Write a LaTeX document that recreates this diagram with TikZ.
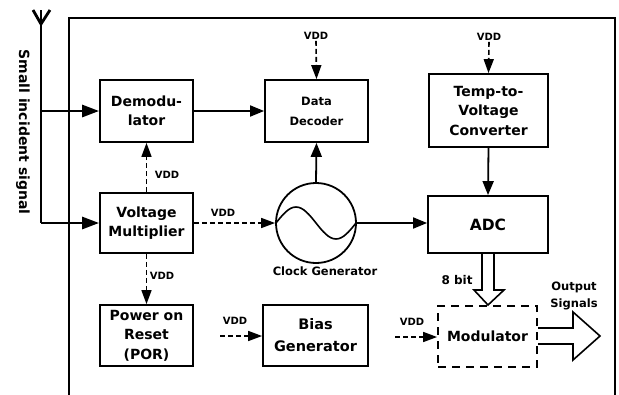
\documentclass[tikz,border=0pt]{standalone}
\usepackage{fontspec}
\setmainfont{DejaVu Sans}
\usetikzlibrary{arrows.meta}
\tikzset{
  blk/.style={draw, line width=1.8pt, align=center, inner sep=1pt, font=\bfseries\fontsize{14}{19.5}\selectfont},
  conn/.style={line width=1.8pt, -{Triangle[length=14pt,width=11pt]}},
  vddconn/.style={line width=1.6pt, dash pattern=on 5pt off 3pt, -{Triangle[length=14pt,width=10pt]}},
  vddlbl/.style={font=\bfseries\fontsize{10}{11}\selectfont, inner sep=1pt},
  thick2/.style={line width=2.8pt},
  lbl/.style={font=\bfseries\fontsize{11.5}{17.5}\selectfont, align=center, inner sep=0pt},
  hollow/.style={line width=1.6pt, line join=miter, fill=white}
}
\begin{document}
\begin{tikzpicture}[x=1pt,y=-1pt]
\useasboundingbox (0,0) rectangle (619,394);
% main frame
\draw[thick2] (69,396) -- (69,18) -- (615,18) -- (615,396);
% blocks
\node[blk, minimum width=93pt, minimum height=62pt] (demod) at (146.5,111) {Demodu-\\lator};
\node[blk, minimum width=103pt, minimum height=62pt, font=\bfseries\fontsize{11.5}{20}\selectfont] (dd) at (316.5,111) {Data\\Decoder};
\node[blk, minimum width=119pt, minimum height=73pt] (tvc) at (488.5,110.5) {Temp-to-\\Voltage\\Converter};
\node[blk, minimum width=120pt, minimum height=57pt, font=\bfseries\fontsize{15.5}{19}\selectfont] (adc) at (488,224.5) {ADC};
\node[blk, minimum width=93pt, minimum height=60pt] (vm) at (146.5,223) {Voltage\\Multiplier};
\node[blk, minimum width=93pt, minimum height=61pt] (por) at (146.5,335.5) {Power on\\Reset\\(POR)};
\node[blk, minimum width=105pt, minimum height=61pt, font=\bfseries\fontsize{14.5}{22}\selectfont] (bias) at (315.5,335.5) {Bias\\Generator};
\node[blk, dash pattern=on 8pt off 6pt, minimum width=99pt, minimum height=61pt] (mod) at (487.5,336.5) {Modulator};
\node[draw, circle, line width=1.8pt, minimum size=80pt, inner sep=0pt] (clk) at (316,223) {};
\draw[line width=1.6pt, shift={(clk.center)}] (-40,0) sin (-20,-16) cos (0,0) sin (20,16) cos (40,0);
\node[lbl] (clklbl) at (325,271) {Clock Generator};
% antenna
\coordinate (ant) at (41,10);
\coordinate (antc) at (41,24);
\coordinate (antb) at (41,223);
\coordinate (antm) at (41,111);
\draw[thick2] (ant) -- (antb);
\draw[thick2] (33,10) -- (antc) -- (50,10);
\draw[thick2, -{Triangle[length=17pt,width=12pt]}] (antb) -- (antb -| vm.west);
\draw[thick2, -{Triangle[length=17pt,width=12pt]}] (antm) -- (antm -| demod.west);
\node[font=\bfseries\fontsize{14}{16}\selectfont, rotate=-90, inner sep=0pt] (sis) at (23,132) {Small incident signal};
% solid connectors
\draw[conn] (demod.east) -- (dd.west);
\draw[conn] (clk.north) -- (dd.south);
\draw[conn] (tvc.south) -- (adc.north);
\draw[conn] (clk.east) -- (clk.east -| adc.west);
% VDD connectors
\node[vddlbl] (v1) at (316,36) {VDD};
\draw[vddconn] (v1.south) -- (dd.north);
\node[vddlbl] (v2) at (489,37) {VDD};
\draw[vddconn] (v2.south) -- (tvc.north);
\draw[vddconn] (vm.north) -- (demod.south);
\node[vddlbl] (v3) at (167,175) {VDD};
\draw[vddconn] (vm.south) -- (por.north);
\node[vddlbl] (v4) at (162,276) {VDD};
\draw[vddconn] (vm.east) -- (clk.west);
\node[vddlbl] (v5) at (223,213) {VDD};
\coordinate (bs) at (220,336);
\draw[vddconn] (bs) -- (bs -| bias.west);
\node[vddlbl] (v6) at (235,321) {VDD};
\coordinate (ms) at (395,337);
\draw[vddconn] (ms) -- (ms -| mod.west);
\node[vddlbl] (v7) at (412,322) {VDD};
% 8 bit hollow arrow
\draw[hollow] (482,254) -- (482,290) -- (474,290) -- (488,305) -- (504,290) -- (494,290) -- (494,254);
\node[font=\bfseries\fontsize{12}{14}\selectfont, inner sep=0pt] (eb) at (457,280) {8 bit};
% output hollow arrow
\draw[hollow] (538,328) -- (573,328) -- (573,312) -- (600,336) -- (573,360) -- (573,344) -- (538,344);
\node[lbl] (outl) at (574,296) {Output\\Signals};
\end{tikzpicture}
\end{document}
